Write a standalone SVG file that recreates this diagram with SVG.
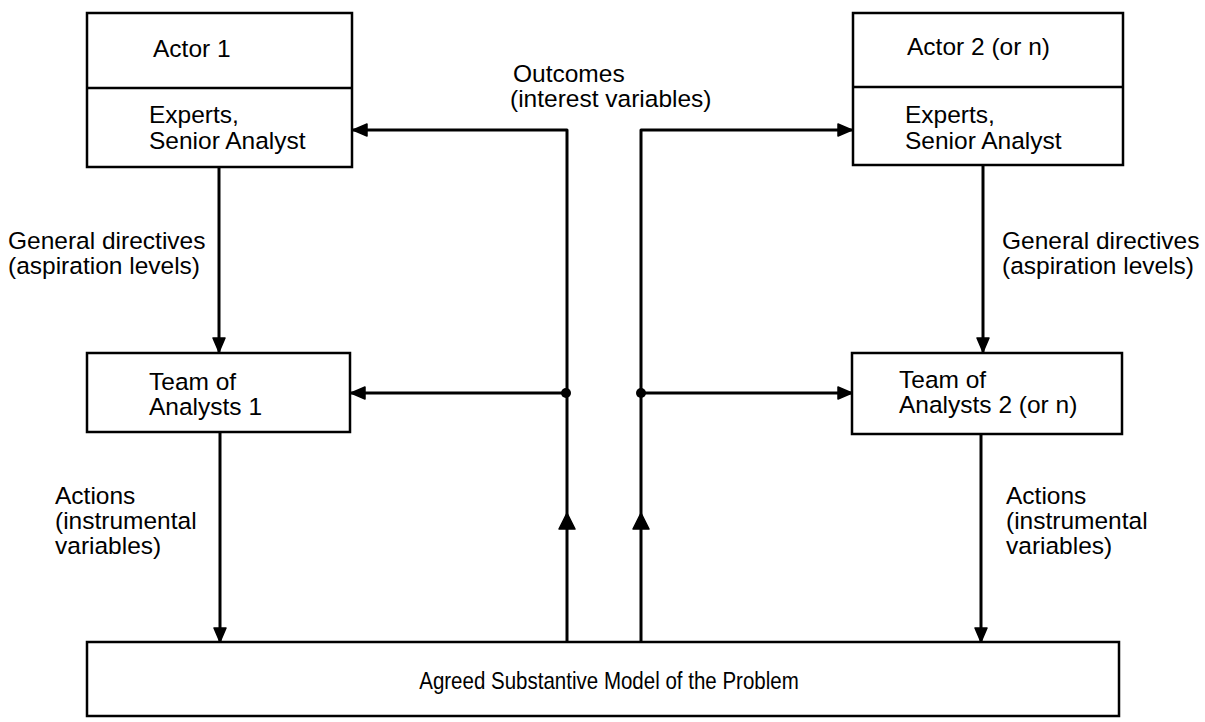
<svg xmlns="http://www.w3.org/2000/svg" width="1205" height="722" viewBox="0 0 1205 722">
<style>
.box{fill:#fff;stroke:#000;stroke-width:2.5}
.ln{fill:none;stroke:#000;stroke-width:3;stroke-linejoin:round}
.t{font-family:"Liberation Sans",Arial,sans-serif;font-size:24.5px;fill:#000}
.tb{font-family:"Liberation Sans",Arial,sans-serif;font-size:24px;fill:#000}
</style>
<defs>
<marker id="ah" viewBox="0 0 16 14" refX="15" refY="7" markerWidth="16" markerHeight="14" markerUnits="userSpaceOnUse" orient="auto">
<path d="M1,1 L15,7 L1,13 Z" fill="#000" stroke="#000" stroke-width="1.5" stroke-linejoin="round"/>
</marker>
</defs>
<g id="connectors">
<line class="ln" x1="219" y1="167" x2="219" y2="352" marker-end="url(#ah)"/>
<line class="ln" x1="983" y1="165" x2="983" y2="352" marker-end="url(#ah)"/>
<line class="ln" x1="220" y1="432" x2="220" y2="642" marker-end="url(#ah)"/>
<line class="ln" x1="981" y1="434" x2="981" y2="642" marker-end="url(#ah)"/>
<path class="ln" d="M567,642 V130 H353" marker-end="url(#ah)"/>
<path class="ln" d="M641,642 V130 H852" marker-end="url(#ah)"/>
<path class="ln" d="M566,393 H351" marker-end="url(#ah)"/>
<path class="ln" d="M641,393 H852" stroke-width="2.5" marker-end="url(#ah)"/>
<polygon points="567,513 575,529 559,529" fill="#000" stroke="#000" stroke-width="1.5" stroke-linejoin="round"/>
<polygon points="641,513 649,529 633,529" fill="#000" stroke="#000" stroke-width="1.5" stroke-linejoin="round"/>
<circle cx="566" cy="393" r="5" fill="#000"/>
<circle cx="641" cy="393" r="5" fill="#000"/>
<text class="t" x="513" y="82">Outcomes</text>
<text class="t" x="510" y="107">(interest variables)</text>
<text class="t" x="8" y="249">General directives</text>
<text class="t" x="8" y="274">(aspiration levels)</text>
<text class="t" x="1002" y="249">General directives</text>
<text class="t" x="1002" y="274">(aspiration levels)</text>
<text class="t" x="55" y="504">Actions</text>
<text class="t" x="55" y="529">(instrumental</text>
<text class="t" x="55" y="554">variables)</text>
<text class="t" x="1006" y="504">Actions</text>
<text class="t" x="1006" y="529">(instrumental</text>
<text class="t" x="1006" y="554">variables)</text>
</g>
<g id="actor1">
<rect class="box" x="87" y="13" width="265" height="154"/>
<line class="box" x1="87" y1="88" x2="352" y2="88"/>
<text class="t" x="153" y="57">Actor 1</text>
<text class="t" x="149" y="123">Experts,</text>
<text class="t" x="149" y="149">Senior Analyst</text>
</g>
<g id="actor2">
<rect class="box" x="853" y="13" width="270" height="152"/>
<line class="box" x1="853" y1="87" x2="1123" y2="87"/>
<text class="t" x="907" y="55">Actor 2 (or n)</text>
<text class="t" x="905" y="123">Experts,</text>
<text class="t" x="905" y="149">Senior Analyst</text>
</g>
<g id="team1">
<rect class="box" x="87" y="353" width="263" height="79"/>
<text class="t" x="149" y="390">Team of</text>
<text class="t" x="149" y="415">Analysts 1</text>
</g>
<g id="team2">
<rect class="box" x="852" y="353" width="270" height="81"/>
<text class="t" x="899" y="388">Team of</text>
<text class="t" x="899" y="413">Analysts 2 (or n)</text>
</g>
<g id="model">
<rect class="box" x="87" y="642" width="1032" height="74"/>
<text class="tb" text-anchor="middle" transform="translate(609,689) scale(0.855,1)">Agreed Substantive Model of the Problem</text>
</g>
</svg>
